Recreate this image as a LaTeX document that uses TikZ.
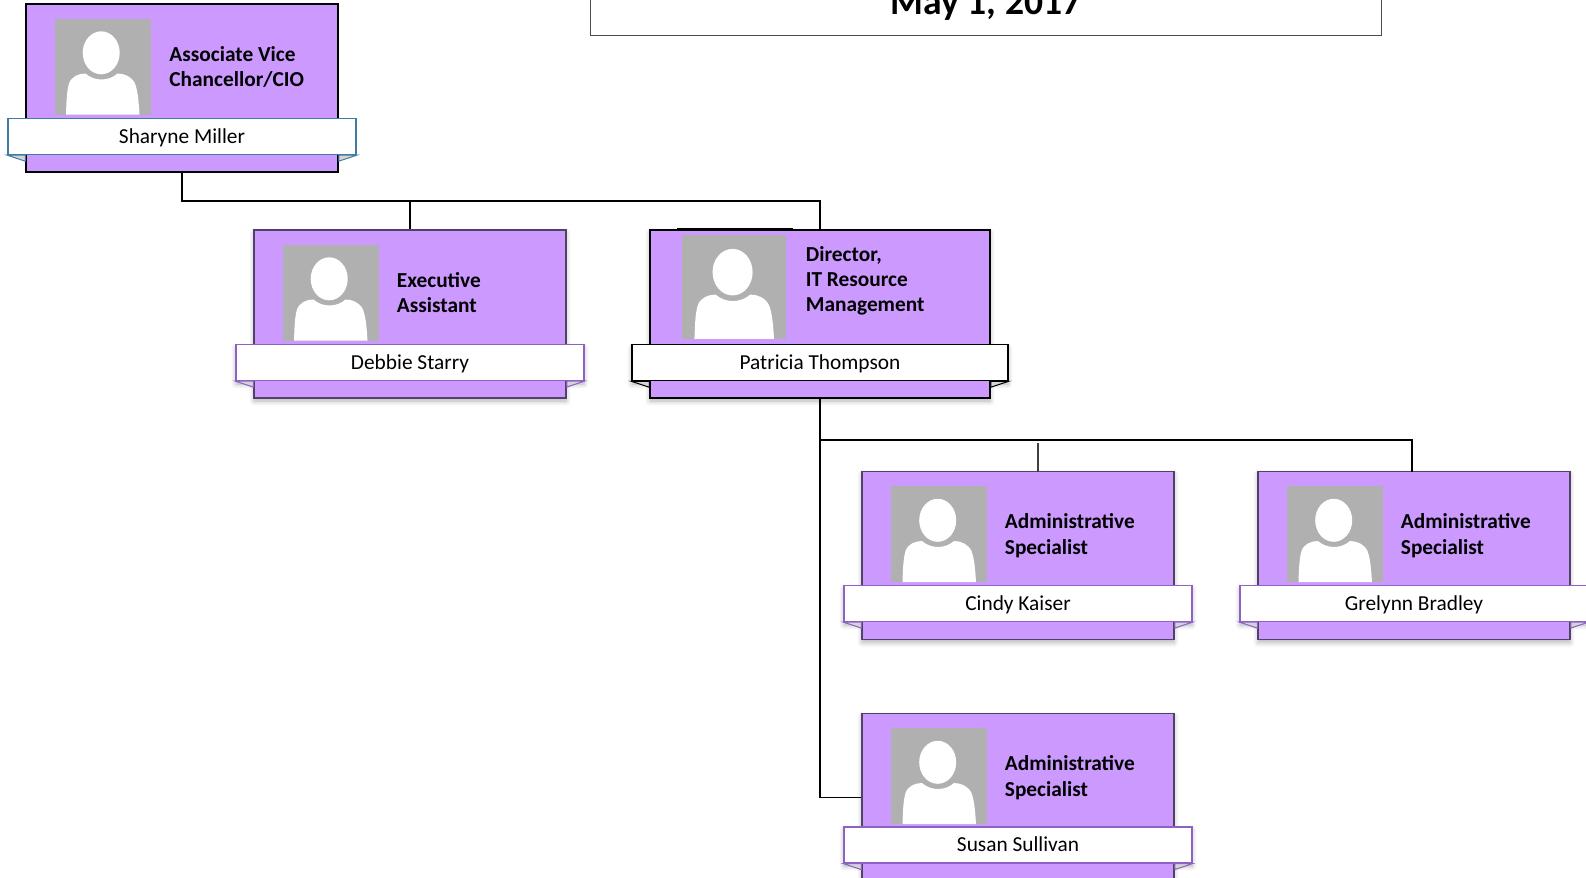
\documentclass[tikz,border=0pt]{standalone}
\usepackage{fontspec}
\setmainfont{Carlito}
\usepackage{xcolor}
\usepackage{tikz}
\usetikzlibrary{calc,positioning,shadows.blur}
\definecolor{cardfill}{HTML}{CC99FF}
\definecolor{photogrey}{HTML}{B0B0B0}
\definecolor{foldgrey}{HTML}{D4D4D4}
\definecolor{ribbonblue}{HTML}{3F7CA3}
\definecolor{ribbonpurple}{HTML}{8E62C4}
\definecolor{cardedge}{HTML}{4F4266}
\tikzset{
  softshadow/.style={blur shadow={shadow xshift=0pt,shadow yshift=-1.5pt,shadow blur radius=2.5pt,shadow opacity=30,shadow blur steps=6}},
  card/.style={draw=cardedge,line width=0.75pt,fill=cardfill,inner sep=0pt,minimum width=156pt,minimum height=84pt},
  ribbon/.style={draw=ribbonpurple,line width=0.6pt,fill=white,inner sep=0pt,minimum width=174pt,minimum height=18pt,text height=9pt,text depth=2.2pt,font=\fontsize{10.67}{12}\selectfont},
  jobtitle/.style={anchor=west,align=left,inner sep=0pt,font=\fontsize{10.67}{12.5}\selectfont\bfseries},
  link/.style={draw=black,line width=0.75pt},
  fold/.style={fill=foldgrey,line width=0.5pt},
  person/.pic={
    \fill [photogrey] (0,0) rectangle (96,96);
    \fill [white] (46.7,34.3) ellipse [x radius=18.5,y radius=21.5];
    \fill [white] (11.5,96) .. controls (12,80) and (12.5,72) .. (14.5,65) .. controls (17,58) and (24,55) .. (31,55)
      .. controls (40,63) and (54,63) .. (63,55) .. controls (70,55) and (77,58) .. (80.5,65)
      .. controls (83,72) and (84,80) .. (85,96) -- cycle;
  },
}
\begin{document}
\begin{tikzpicture}[x=0.5pt,y=-0.5pt]
  \useasboundingbox (0,0) rectangle (1586,878);
  \node (heading) [draw=black!70,line width=0.5pt,fill=white,inner sep=0pt,minimum width=395.5pt,minimum height=50pt] at (985.5,-15) {};
  \node (date) [anchor=base,font=\fontsize{18.8}{22}\selectfont\bfseries,inner sep=0pt] at (986,14.5) {May 1, 2017};

  % links
  \coordinate (topbus) at (0,201);
  \coordinate (midbus) at (0,440);
  \coordinate (cindytop) at (1038,443);
  \coordinate (cindytap) at (1038,472);
  \coordinate (grelynntap) at (1412,472);

  % shadows of the ribbon ends stay under the cards
  \foreach \x/\y/\w [count=\n] in {410/363/174,820/363/188,1018/604/174,1414/604/174,1018/845/174} {
    \node (ribbonback\n) [ribbon,softshadow,minimum width=\w pt] at (\x,\y) {};
  }

  % cards
  \node (cio) [card,draw=black] at (182,88) {};
  \node (asst) [card,softshadow] at (410,314) {};
  \node (itrm) [card,draw=black,minimum width=170pt,softshadow] at (820,314) {};
  \node (cindy) [card,softshadow] at (1018,555.5) {};
  \node (grelynn) [card,softshadow] at (1414,555.5) {};
  \node (susan) [card,softshadow] at (1018,797.5) {};

  \draw [link] (cio.south) |- (itrm.north |- topbus) -- (itrm.north);
  \draw [link] (asst.north |- topbus) -- (asst.north);
  \draw [link] (itrm.south) |- (grelynntap |- midbus) -- (grelynntap);
  \draw [link,draw=black!75,line width=0.6pt] (cindytop) -- (cindytap);
  \draw [link] (itrm.south) -- (itrm.south |- susan.west) -- (susan.west);

  \pic at (54.5,18.5) {person};
  \pic at (282.5,244.5) {person};
  \pic [scale=1.083] at (682,235) {person};
  \pic at (891,486) {person};
  \pic at (1287,486) {person};
  \pic at (891,728) {person};
  \draw [black,line width=0.6pt] (677,229) -- (793,229);

  \node (ciojob) [jobtitle] at (169,67) {Associate Vice\\Chancellor/CIO};
  \node (asstjob) [jobtitle] at (396.5,293) {Executive\\Assistant};
  \node (itrmjob) [jobtitle] at (805.5,281) {Director,\\IT Resource\\Management};
  \node (cindyjob) [jobtitle] at (1004.5,535.5) {Administrative\\[0.6pt]Specialist};
  \node (grelynnjob) [jobtitle] at (1400.5,535.5) {Administrative\\[0.6pt]Specialist};
  \node (susanjob) [jobtitle] at (1004.5,777.5) {Administrative\\[0.6pt]Specialist};

  % ribbons
  \node (cioname) [ribbon,draw=ribbonblue,line width=0.7pt] at (182,136.5) {Sharyne Miller};
  \node (asstname) [ribbon] at (410,362.5) {Debbie Starry};
  \node (itrmname) [ribbon,draw=black,line width=0.75pt,minimum width=188pt] at (820,362.5) {Patricia Thompson};
  \node (cindyname) [ribbon] at (1018,603.5) {Cindy Kaiser};
  \node (grelynnname) [ribbon] at (1414,603.5) {Grelynn Bradley};
  \node (susanname) [ribbon] at (1018,845) {Susan Sullivan};

  \foreach \who/\edge in {cio/ribbonblue,asst/ribbonpurple,itrm/black,cindy/ribbonpurple,grelynn/ribbonpurple,susan/ribbonpurple} {
    \draw [fold,draw=\edge] (\who name.south west) -- (\who.west |- \who name.south) -- ($(\who.west |- \who name.south)+(0,6)$) -- cycle;
    \draw [fold,draw=\edge] (\who name.south east) -- (\who.east |- \who name.south) -- ($(\who.east |- \who name.south)+(0,6)$) -- cycle;
  }
\end{tikzpicture}
\end{document}
